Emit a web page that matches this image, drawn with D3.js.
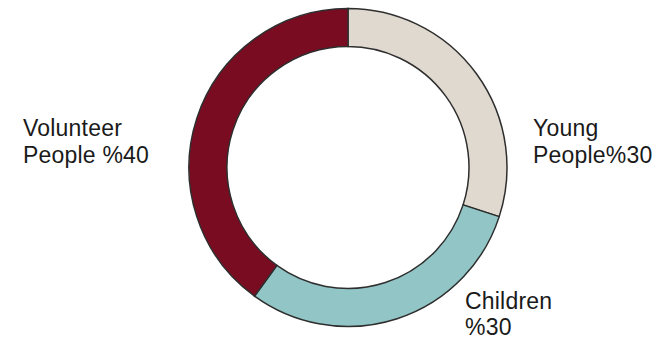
<!DOCTYPE html>
<html><head><meta charset="utf-8">
<script src="https://cdn.jsdelivr.net/npm/d3@7"></script>
<style>html,body{margin:0;padding:0;background:#fff;}svg{display:block;}</style>
</head><body>
<svg id="chart" width="661" height="342"></svg>
<script>
const categories = ["Young People", "Children", "Volunteer People"];
const values = [30, 30, 40];
const colors = ["#e0d9cf", "#92c6c6", "#7a0c22"];
const labelLines = [["Young", "People%30"], ["Children", "%30"], ["Volunteer", "People %40"]];
const labelPos = [[533, 136, "start"], [465, 308.5, "start"], [23, 136, "start"]];

const svg = d3.select("#chart");
const cx = 348, cy = 167.5, rOuter = 159, rInner = 121;
const pie = d3.pie().sort(null).value(d => d)(values);
const arc = d3.arc().innerRadius(rInner).outerRadius(rOuter);
const g = svg.append("g").attr("transform", `translate(${cx},${cy})`);
g.selectAll("path").data(pie).join("path")
  .attr("d", arc)
  .attr("fill", (d, i) => colors[i])
  .attr("stroke", "#2e2e2e")
  .attr("stroke-width", 1.5);

labelLines.forEach((lines, i) => {
  const t = svg.append("text")
    .attr("x", labelPos[i][0]).attr("y", labelPos[i][1])
    .attr("text-anchor", labelPos[i][2])
    .attr("font-family", "Liberation Sans, Arial, Helvetica, sans-serif")
    .attr("font-size", 23).attr("letter-spacing", 0.2).attr("fill", "#1a1a1a");
  lines.forEach((l, j) => t.append("tspan").attr("x", labelPos[i][0]).attr("dy", j ? 26.7 : 0).text(l));
});
</script>
</body></html>
